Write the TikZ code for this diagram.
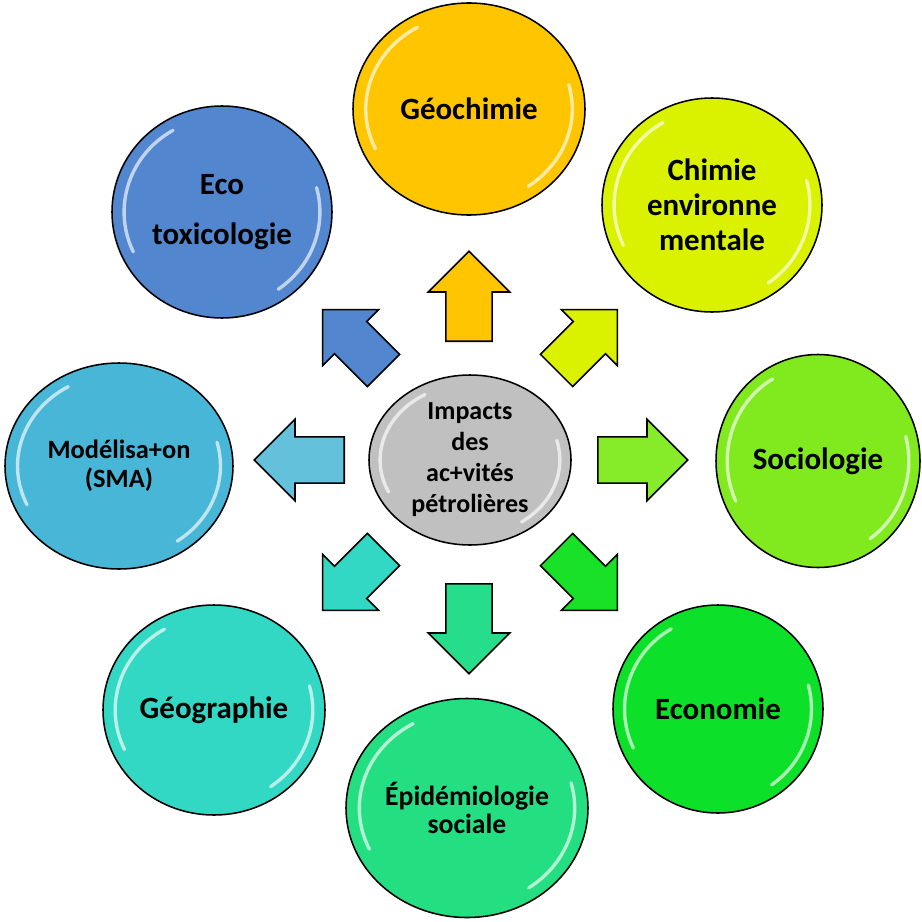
\documentclass[tikz,border=0pt]{standalone}
\usepackage{fontspec}
\setmainfont{Carlito}
\usetikzlibrary{calc,shapes.geometric,shapes.arrows}

\definecolor{cGeochimie}{RGB}{255,198,0}
\definecolor{cChimie}{RGB}{218,242,0}
\definecolor{cSocio}{RGB}{128,234,30}
\definecolor{cEco}{RGB}{12,224,40}
\definecolor{cEpidemio}{RGB}{36,222,130}
\definecolor{cGeographie}{RGB}{50,216,196}
\definecolor{cModel}{RGB}{72,182,214}
\definecolor{cEcotox}{RGB}{82,134,206}
\definecolor{cImpacts}{RGB}{192,192,192}

\tikzset{
  discsize/.style 2 args={minimum width=#1*0.25mm, minimum height=#2*0.25mm},
  disc/.style={ellipse, draw=black, line width=1.1pt, inner sep=0pt, align=center,
    font=\bfseries\fontsize{22}{25}\selectfont,
    path picture={
      \draw[white, opacity=.65, line width=2.4pt, line cap=round]
        let \p1=($(path picture bounding box.north east)-(path picture bounding box.center)$) in
        ($(path picture bounding box.center)+(120:{0.89*\x1} and {0.89*\y1})$)
          arc[start angle=120, end angle=205, x radius=0.89*\x1, y radius=0.89*\y1]
        ($(path picture bounding box.center)+(-55:{0.89*\x1} and {0.89*\y1})$)
          arc[start angle=-55, end angle=15, x radius=0.89*\x1, y radius=0.89*\y1];
    }},
  bigarrow/.style={single arrow, draw=black, line width=1.1pt, inner xsep=0pt, inner ysep=5.6mm,
    single arrow head extend=4.4mm, minimum height=22.5mm, anchor=tail},
  diagarrow/.style={bigarrow, inner ysep=5.5mm, single arrow head extend=4.2mm, minimum height=21.5mm},
}

\begin{document}
\begin{tikzpicture}[x=0.25mm,y=-0.25mm]
  \useasboundingbox (0,0) rectangle (922,922);

  % the centre
  \node[disc, discsize={202}{170}, fill=cImpacts, font=\bfseries\fontsize{18.5}{22}\selectfont]
    (impacts) at (470,460) {Impacts\\des\\ac+vités\\pétrolières};

  % the eight fields round it
  \node[disc, discsize={232}{212}, fill=cGeochimie] (geochimie) at (469,109) {Géochimie};
  \node[disc, discsize={220}{214}, fill=cChimie] (chimie) at (712,205) {Chimie\\environne\\mentale};
  \node[disc, discsize={204}{213}, fill=cSocio] (socio) at (818,461) {Sociologie};
  \node[disc, discsize={210}{208}, fill=cEco] (economie) at (718,709) {Economie};
  \node[disc, discsize={242}{219}, fill=cEpidemio, font=\bfseries\fontsize{19.7}{20}\selectfont]
    (epidemio) at (467,808) {Épidémiologie\\sociale};
  \node[disc, discsize={222}{210}, fill=cGeographie] (geographie) at (214,710) {Géographie};
  \node[disc, discsize={228}{206}, fill=cModel, font=\bfseries\fontsize{18.8}{20.5}\selectfont]
    (model) at (119,466) {Modélisa+on\\(SMA)};
  \node[disc, discsize={220}{212}, fill=cEcotox] (ecotox) at (222,212) {Eco\\[10pt]toxicologie};

  % arrows from the centre (placed by their tails)
  \node[bigarrow, fill=cGeochimie, rotate=90] (arGeochimie) at (469,342) {};
  \node[diagarrow, fill=cChimie, rotate=45] (arChimie) at (556,371) {};
  \node[bigarrow, fill=cSocio!95!white, rotate=0] (arSocio) at (597,460) {};
  \node[diagarrow, fill=cEco!90!cSocio, rotate=-45] (arEco) at (556,549) {};
  \node[bigarrow, fill=cEpidemio!85!cGeographie, rotate=-90] (arEpidemio) at (469,583) {};
  \node[diagarrow, fill=cGeographie, rotate=-135] (arGeographie) at (384,549) {};
  \node[bigarrow, fill=cModel!85!white, rotate=180] (arModel) at (345,460) {};
  \node[diagarrow, fill=cEcotox, rotate=135] (arEcotox) at (384,371) {};
\end{tikzpicture}
\end{document}
